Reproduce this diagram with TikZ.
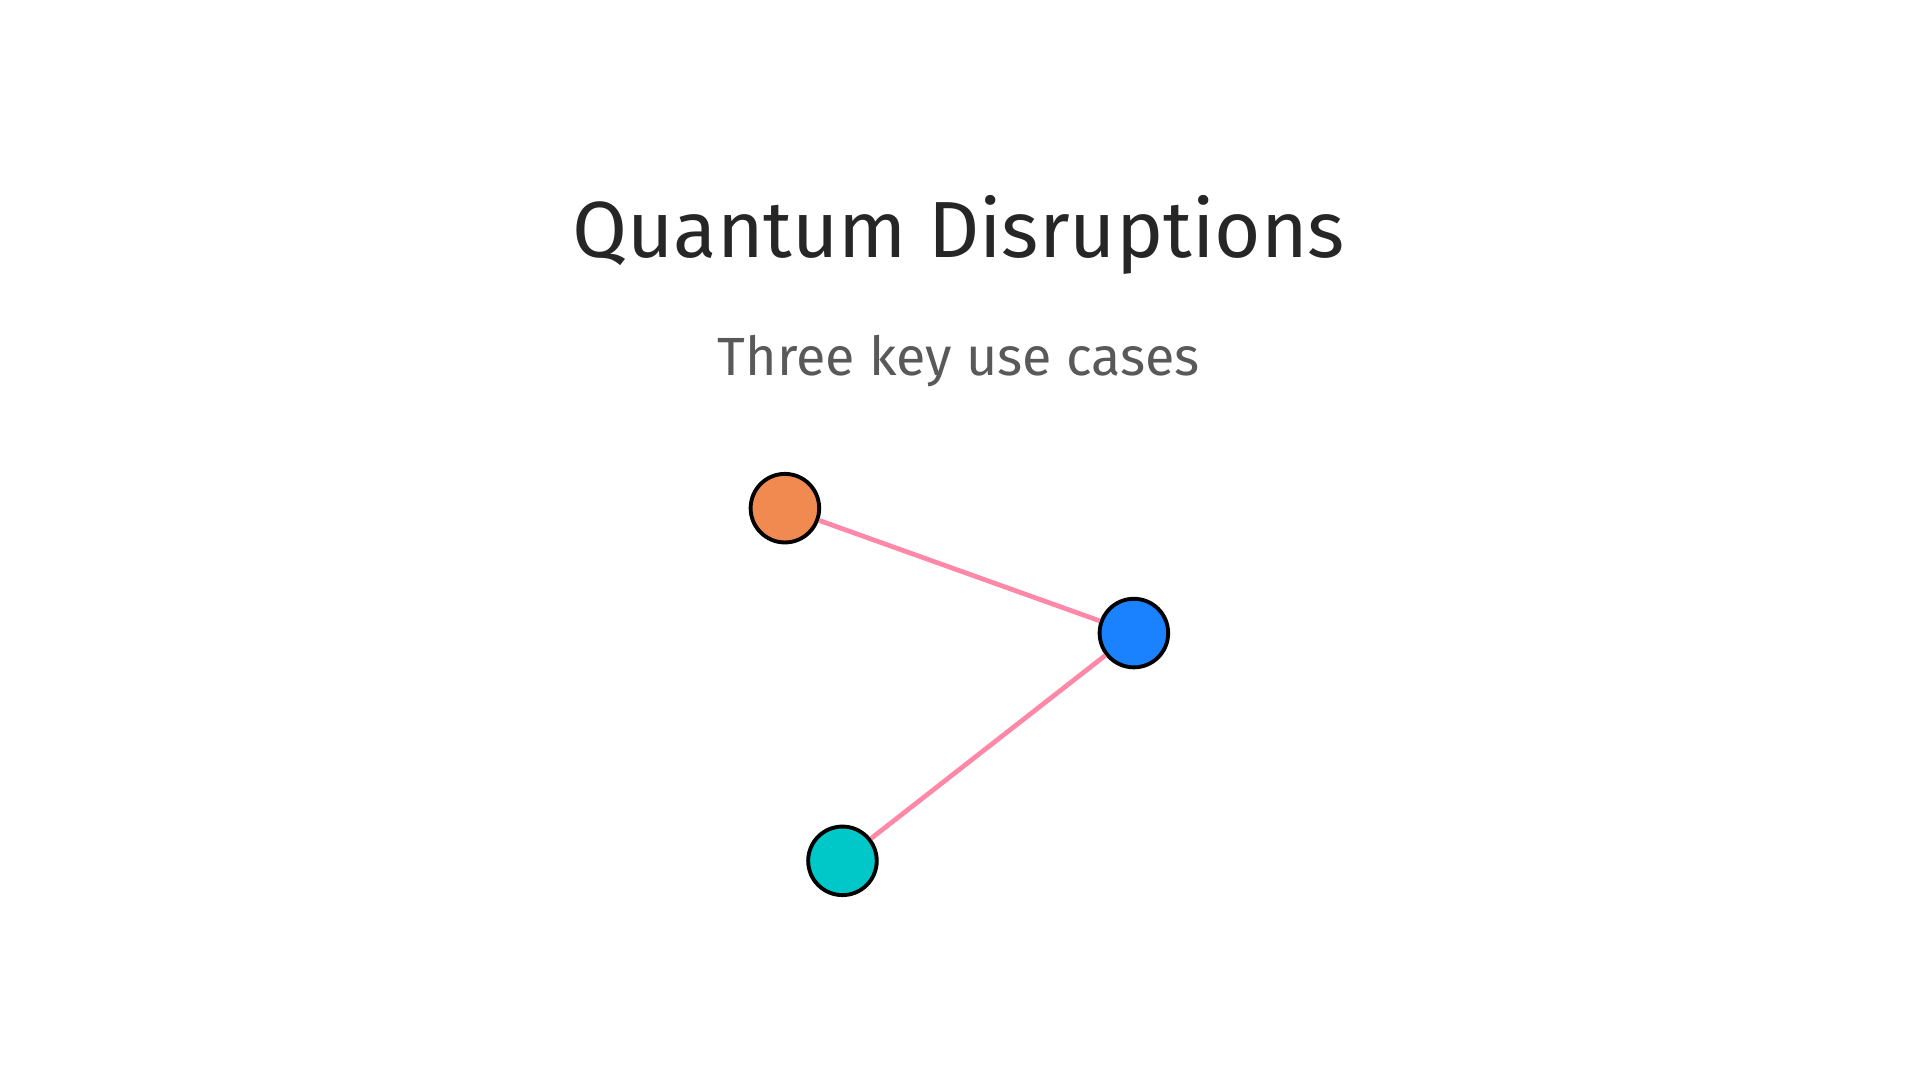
\documentclass[tikz,border=0pt]{standalone}
\usepackage{fontspec}
\setmainfont{Fira Sans}
\definecolor{linkpink}{HTML}{FF88A8}
\definecolor{dotorange}{HTML}{F08A50}
\definecolor{dotblue}{HTML}{1A82FF}
\definecolor{dotteal}{HTML}{00C8C8}
\begin{document}
\begin{tikzpicture}[
   dot/.style={circle, draw=black, line width=0.9pt, minimum size=0.56cm, inner sep=0pt},
   link/.style={draw=linkpink, line width=1.1pt}
]
   \useasboundingbox (0,0) rectangle (15.68,8.82);

   \node (title) at (7.83,6.90) [text=black!85, font=\fontsize{18.5}{22}\selectfont] {Quantum Disruptions};
   \node (subtitle) at (7.83,5.87) [text=black!65, font=\fontsize{12.5}{15}\selectfont] {Three key use cases};

   \node (orange) at (6.41,4.67) [dot, fill=dotorange] {};
   \node (blue) at (9.26,3.65) [dot, fill=dotblue] {};
   \node (teal) at (6.88,1.79) [dot, fill=dotteal] {};

   \draw [link] (orange) -- (blue);
   \draw [link] (blue) -- (teal);

\end{tikzpicture}
\end{document}
